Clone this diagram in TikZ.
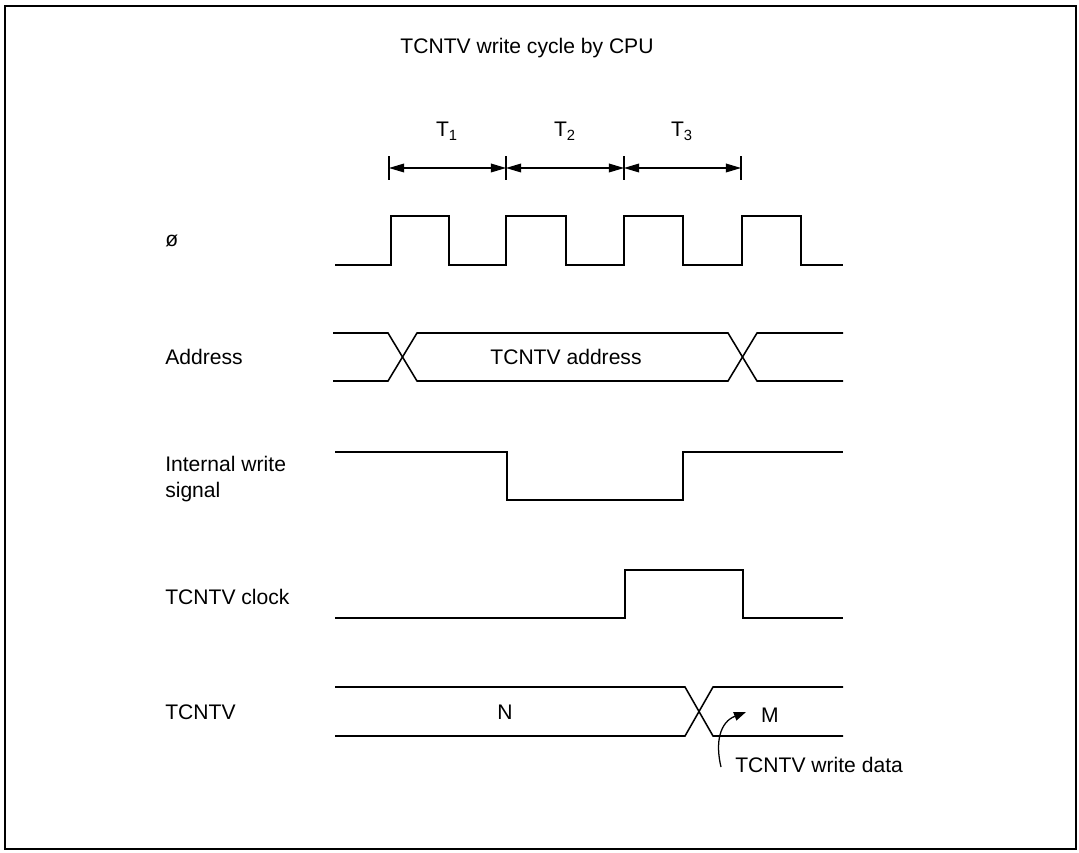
\documentclass[tikz,border=0pt]{standalone}
\usepackage{fontspec}
\setmainfont{Liberation Sans}
\usetikzlibrary{arrows.meta}

\begin{document}
\begin{tikzpicture}[
		x=0.025cm, y=-0.025cm,
		txt/.style={
			font=\fontsize{15}{18}\selectfont, inner sep=0pt, anchor=base
		},
		siglabel/.style={
			font=\fontsize{15}{18}\selectfont, inner sep=0pt, anchor=base west
		},
		wave/.style={
			line width=1.1pt, line join=miter
		},
		dimline/.style={
			line width=0.8pt, {Triangle[length=0.38cm,width=0.22cm]}-{Triangle[length=0.38cm,width=0.22cm]}
		}
		]
		
		\useasboundingbox (0,0) rectangle (1079,853);
		\draw[line width=1.4pt] (5,6) rectangle (1076,849);  % marco
		
		\node[txt] (title) at (527,54) {TCNTV write cycle by CPU};
		
		% estados T1..T3
		\coordinate (c0) at (389,168);
		\coordinate (c1) at (506,168);
		\coordinate (c2) at (624,168);
		\coordinate (c3) at (741,168);
		\foreach \c in {c0,c1,c2,c3}
			\draw[wave] ([yshift=-12*0.025cm]\c) -- ([yshift=12*0.025cm]\c);
		\draw[dimline] (c0) -- (c1);
		\draw[dimline] (c1) -- (c2);
		\draw[dimline] (c2) -- (c3);
		\node[txt] (t1) at (447,137) {T\textsubscript{1}};
		\node[txt] (t2) at (565,137) {T\textsubscript{2}};
		\node[txt] (t3) at (682,137) {T\textsubscript{3}};
		
		% etiquetas de las senales
		\node[siglabel] (phi) at (165,247) {ø};
		\node[siglabel] (addr) at (165,364) {Address};
		\node[font=\fontsize{15}{19}\selectfont, inner sep=0pt, anchor=west, align=left] (iws) at (165,479) {Internal write\\signal};
		\node[siglabel] (tclk) at (165,604) {TCNTV clock};
		\node[siglabel] (tcv) at (165,719) {TCNTV};
		
		% reloj
		\draw[wave] (335,265) -- (391,265) -- (391,216) -- (449,216) -- (449,265)
			-- (506,265) -- (506,216) -- (566,216) -- (566,265)
			-- (624,265) -- (624,216) -- (683,216) -- (683,265)
			-- (742,265) -- (742,216) -- (801,216) -- (801,265) -- (843,265);
		
		% direccion
		\draw[wave] (333,333) -- (388,333) -- (417,381) -- (728,381) -- (757,333) -- (843,333);
		\draw[wave] (333,381) -- (388,381) -- (417,333) -- (728,333) -- (757,381) -- (843,381);
		\node[txt] (addrtxt) at (566,364) {TCNTV address};
		
		% escritura interna
		\draw[wave] (335,452) -- (507,452) -- (507,500) -- (683,500) -- (683,452) -- (843,452);
		
		% reloj TCNTV
		\draw[wave] (335,618) -- (625,618) -- (625,570) -- (743,570) -- (743,618) -- (843,618);
		
		% TCNTV
		\draw[wave] (335,687) -- (685,687) -- (713,736) -- (843,736);
		\draw[wave] (335,736) -- (685,736) -- (713,687) -- (843,687);
		\node[txt] (n) at (505,719) {N};
		\node[txt] (m) at (770,722) {M};
		
		\node[siglabel] (wd) at (735,772) {TCNTV write data};
		\coordinate (wdtail) at (721,767);
		\coordinate (wdtip) at (746,712);
		\draw[line width=0.9pt, -{Triangle[length=0.3cm,width=0.22cm]}] (wdtail) .. controls (715,742) and (720,722) .. (wdtip);
	\end{tikzpicture}
\end{document}
